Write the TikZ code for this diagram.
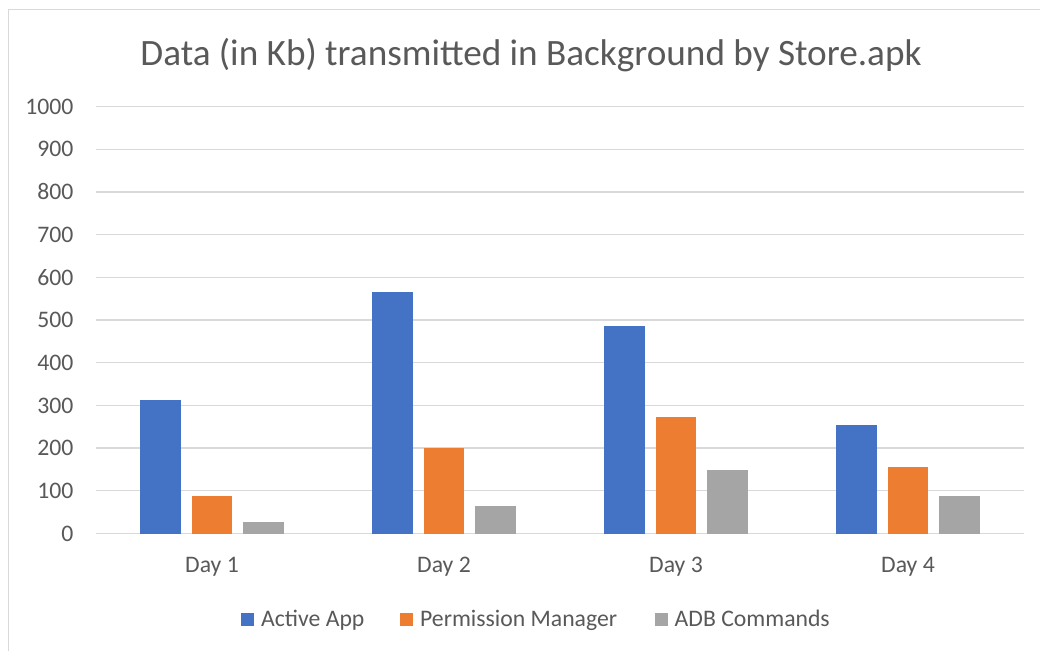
\documentclass[tikz,border=0pt]{standalone}
\usepackage{fontspec}
\setmainfont{Carlito}
\definecolor{txt}{HTML}{595959}
\definecolor{gridc}{HTML}{D9D9D9}
\definecolor{sA}{HTML}{4472C4}
\definecolor{sB}{HTML}{ED7D31}
\definecolor{sC}{HTML}{A5A5A5}
\tikzset{
  lbl/.style={text=txt, inner sep=0pt, font=\fontsize{23.7}{24}\selectfont},
  ttl/.style={text=txt, inner sep=0pt, font=\fontsize{37.2}{38}\selectfont},
  gline/.style={draw=gridc, line width=1.3pt},
  keybox/.style={minimum size=12.5pt, inner sep=0pt, draw=none},
}
\begin{document}
\begin{tikzpicture}[x=1pt,y=-1pt]
\useasboundingbox (0,0) rectangle (1040,651);
\fill[white] (0,0) rectangle (1040,651);
\draw[gridc, line width=1pt] (8,651) -- (8,9) -- (1040,9);
% title
\node[ttl, anchor=base] (title) at (531,65) {Data (in Kb) transmitted in Background by Store.apk};
% gridlines and y labels
\foreach \v in {0,...,10}{
  \pgfmathsetmacro\yy{533.5-42.7*\v}
  \pgfmathtruncatemacro\lab{\v*100}
  \draw[gline] (96,\yy) -- (1024,\yy);
  \node[lbl, anchor=east] (y\v) at (73.5,\yy) {\lab};
}
% bars
\def\base{533.5}
\def\sc{0.427}
\foreach \cx/\a/\b/\c [count=\i] in {212/313/88/28, 444/565/201/64, 676/485/273/148, 908/255/155/88}{
  \fill[sA] ({\cx-51.3-20.3},\base) rectangle ({\cx-51.3+20.3},{\base-\sc*\a});
  \fill[sB] ({\cx-20.3},\base) rectangle ({\cx+20.3},{\base-\sc*\b});
  \fill[sC] ({\cx+51.3-20.3},\base) rectangle ({\cx+51.3+20.3},{\base-\sc*\c});
  \node[lbl, anchor=base] (d\i) at (\cx,572) {Day \i};
}
% legend
\node[keybox, fill=sA] (kA) at (247.5,619.5) {};
\node[lbl, anchor=base west] (tA) at (261,626.5) {Active App};
\node[keybox, fill=sB] (kB) at (406.5,619.5) {};
\node[lbl, anchor=base west] (tB) at (420,626.5) {Permission Manager};
\node[keybox, fill=sC] (kC) at (661.5,619.5) {};
\node[lbl, anchor=base west] (tC) at (674.5,626.5) {ADB Commands};
\end{tikzpicture}
\end{document}
